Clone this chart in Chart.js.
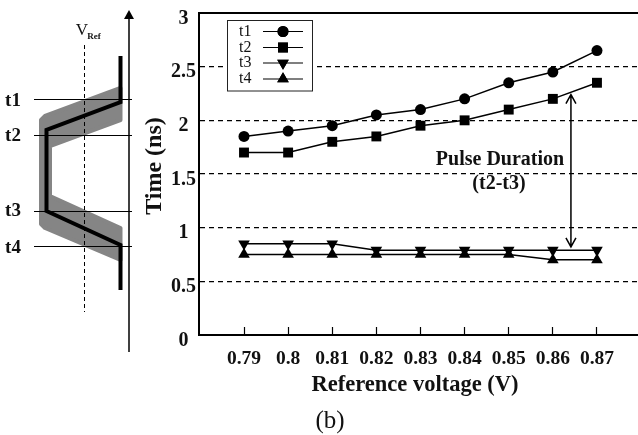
<!DOCTYPE html>
<html>
<head>
<meta charset="utf-8">
<style>
html, body { margin: 0; padding: 0; background: #fff; }
#wrap { width: 638px; height: 435px; }
</style>
<script src="https://cdn.jsdelivr.net/npm/chart.js@4/dist/chart.umd.min.js"></script>
</head>
<body>
<div id="wrap"><canvas id="chart"></canvas></div>
<script>
// values
var voltages = [0.79, 0.8, 0.81, 0.82, 0.83, 0.84, 0.85, 0.86, 0.87];
var t1 = [1.85, 1.9, 1.95, 2.05, 2.1, 2.2, 2.35, 2.45, 2.65];
var t2 = [1.7, 1.7, 1.8, 1.85, 1.95, 2.0, 2.1, 2.2, 2.35];
var t3 = [0.85, 0.85, 0.85, 0.79, 0.79, 0.79, 0.79, 0.79, 0.79];
var t4 = [0.75, 0.75, 0.75, 0.75, 0.75, 0.75, 0.75, 0.7, 0.7];
var yTicks = [0, 0.5, 1, 1.5, 2, 2.5, 3];

var serif = "'Liberation Serif', serif";

function makeSeries(name, values, style, radius, rotation) {
    return {
        label: name,
        data: values.map(function (v, i) { return { x: voltages[i], y: v }; }),
        borderColor: "#000",
        backgroundColor: "#000",
        borderWidth: 1.5,
        pointStyle: style,
        pointRadius: radius,
        pointRotation: rotation,
        pointBorderWidth: 0,
        tension: 0
    };
}

function text(ctx, str, x, y, font, align) {
    ctx.font = font;
    ctx.textAlign = align || "center";
    ctx.textBaseline = "middle";
    ctx.fillStyle = "#111";
    ctx.fillText(str, x, y);
}

// Top edge of the plot box, missing from the axes
function drawFrame(chart) {
    var ctx = chart.ctx, a = chart.chartArea;
    ctx.strokeStyle = "#000";
    ctx.lineWidth = 2;
    ctx.beginPath();
    ctx.moveTo(a.left - 1, a.top);
    ctx.lineTo(a.right, a.top);
    ctx.stroke();
}

function drawLegend(chart) {
    var ctx = chart.ctx;
    ctx.fillStyle = "#fff";
    ctx.fillRect(227.5, 20.5, 85, 70.5);
    ctx.strokeStyle = "#222";
    ctx.lineWidth = 1;
    ctx.strokeRect(227.5, 20.5, 85, 70.5);
    var rows = [31.5, 47.5, 63, 79];
    chart.data.datasets.forEach(function (ds, i) {
        text(ctx, ds.label, 239, rows[i], "16px " + serif, "left");
        ctx.strokeStyle = "#000";
        ctx.lineWidth = 1.2;
        ctx.beginPath();
        ctx.moveTo(263, rows[i]);
        ctx.lineTo(303, rows[i]);
        ctx.stroke();
        ctx.fillStyle = "#000";
        Chart.helpers.drawPoint(ctx, {
            pointStyle: ds.pointStyle,
            radius: ds.pointRadius,
            rotation: ds.pointRotation,
            borderWidth: 0
        }, 283, rows[i]);
        ctx.fill();
    });
}

// Pulse duration arrow between the t2 and t3 curves
function drawPulse(chart) {
    var ctx = chart.ctx;
    var x = chart.scales.x.getPixelForValue(0.8641);
    var top = chart.scales.y.getPixelForValue(2.24);
    var bottom = chart.scales.y.getPixelForValue(0.82);
    ctx.strokeStyle = "#000";
    ctx.lineWidth = 1.5;
    ctx.beginPath();
    ctx.moveTo(x, top);
    ctx.lineTo(x, bottom);
    ctx.moveTo(x - 5, top + 9);
    ctx.lineTo(x, top);
    ctx.lineTo(x + 5, top + 9);
    ctx.moveTo(x - 5, bottom - 9);
    ctx.lineTo(x, bottom);
    ctx.lineTo(x + 5, bottom - 9);
    ctx.stroke();
    text(ctx, "Pulse Duration", 500, 160, "bold 20px " + serif);
    text(ctx, "(t2-t3)", 499, 184, "bold 20px " + serif);
}

// Waveform sketch on the left
function drawSketch(chart) {
    var ctx = chart.ctx;
    ctx.save();

    ctx.fillStyle = "#858585";
    ctx.strokeStyle = "#858585";
    ctx.lineWidth = 4;
    ctx.lineJoin = "round";
    ctx.beginPath();
    ctx.moveTo(120.5, 88);
    ctx.lineTo(45, 116);
    ctx.lineTo(41, 120);
    ctx.lineTo(41, 224);
    ctx.lineTo(45, 228);
    ctx.lineTo(120.5, 260);
    ctx.lineTo(120.5, 228);
    ctx.lineTo(50, 196);
    ctx.lineTo(50, 146);
    ctx.lineTo(120.5, 120);
    ctx.closePath();
    ctx.fill();
    ctx.stroke();

    ctx.strokeStyle = "#000";
    ctx.lineWidth = 1;
    [99, 135, 211, 246].forEach(function (y) {
        ctx.beginPath();
        ctx.moveTo(34, y + 0.5);
        ctx.lineTo(132, y + 0.5);
        ctx.stroke();
    });

    ctx.setLineDash([4, 3]);
    ctx.beginPath();
    ctx.moveTo(84.5, 45);
    ctx.lineTo(84.5, 312);
    ctx.stroke();
    ctx.setLineDash([]);

    ctx.lineWidth = 4;
    ctx.lineJoin = "miter";
    ctx.beginPath();
    ctx.moveTo(120.5, 56);
    ctx.lineTo(120.5, 102);
    ctx.lineTo(46.5, 130);
    ctx.lineTo(46.5, 211);
    ctx.lineTo(120.5, 245);
    ctx.lineTo(120.5, 290);
    ctx.stroke();

    ctx.lineWidth = 1.5;
    ctx.beginPath();
    ctx.moveTo(129, 352);
    ctx.lineTo(129, 15);
    ctx.stroke();
    ctx.fillStyle = "#000";
    ctx.beginPath();
    ctx.moveTo(129, 10);
    ctx.lineTo(134, 19);
    ctx.lineTo(124, 19);
    ctx.closePath();
    ctx.fill();

    text(ctx, "V", 82, 31, "17px " + serif);
    text(ctx, "Ref", 94, 37, "bold 9px " + serif);
    text(ctx, "t1", 13, 101, "bold 19px " + serif);
    text(ctx, "t2", 13, 136, "bold 19px " + serif);
    text(ctx, "t3", 13, 211, "bold 19px " + serif);
    text(ctx, "t4", 13, 248, "bold 19px " + serif);

    ctx.restore();
}

var extras = {
    id: "extras",
    afterDraw: function (chart) {
        var ctx = chart.ctx;
        ctx.save();
        drawFrame(chart);
        drawPulse(chart);
        drawLegend(chart);
        ctx.restore();
        drawSketch(chart);

        ctx.save();
        ctx.translate(155, 166);
        ctx.rotate(-Math.PI / 2);
        text(ctx, "Time (ns)", 0, 0, "bold 24px " + serif);
        ctx.restore();
        text(ctx, "Reference voltage (V)", 415, 385, "bold 22.5px " + serif);
        text(ctx, "(b)", 330, 421, "25px " + serif);
    }
};

new Chart(document.getElementById("chart"), {
    type: "line",
    data: {
        datasets: [
            makeSeries("t1", t1, "circle", 5.5, 0),
            makeSeries("t2", t2, "rect", 7, 0),
            makeSeries("t3", t3, "triangle", 6.7, 180),
            makeSeries("t4", t4, "triangle", 6.7, 0)
        ]
    },
    options: {
        responsive: true,
        maintainAspectRatio: false,
        animation: false,
        layout: { autoPadding: false, padding: { top: 13, right: 0, left: 0, bottom: 0 } },
        plugins: {
            legend: { display: false },
            tooltip: { enabled: false }
        },
        scales: {
            x: {
                type: "linear",
                min: 0.7798,
                max: 0.8793,
                afterFit: function (s) {
                    s.height = 100;
                    s.paddingLeft = 0;
                    s.paddingRight = 0;
                },
                afterBuildTicks: function (s) {
                    s.ticks = voltages.map(function (v) { return { value: v }; });
                },
                border: { display: true, color: "#000", width: 2 },
                grid: {
                    drawOnChartArea: false,
                    drawTicks: true,
                    tickLength: -8,
                    tickWidth: 1.2,
                    tickColor: "#000"
                },
                ticks: {
                    autoSkip: false,
                    maxRotation: 0,
                    padding: 20,
                    color: "#111",
                    font: { family: serif, size: 19.5, weight: "bold" },
                    callback: function (v) { return String(v); }
                }
            },
            y: {
                min: 0,
                max: 3,
                afterFit: function (s) {
                    s.width = 199;
                    s.paddingTop = 0;
                    s.paddingBottom = 0;
                },
                afterBuildTicks: function (s) {
                    s.ticks = yTicks.map(function (v) { return { value: v }; });
                },
                border: { display: true, color: "#000", width: 2, dash: [5, 4] },
                grid: {
                    color: "#000",
                    lineWidth: 1.2,
                    drawTicks: false
                },
                ticks: {
                    crossAlign: "center",
                    labelOffset: 5.5,
                    padding: 3,
                    color: "#111",
                    font: { family: serif, size: 20, weight: "bold" },
                    callback: function (v) { return String(v); }
                }
            }
        }
    },
    plugins: [extras]
});
</script>
</body>
</html>
